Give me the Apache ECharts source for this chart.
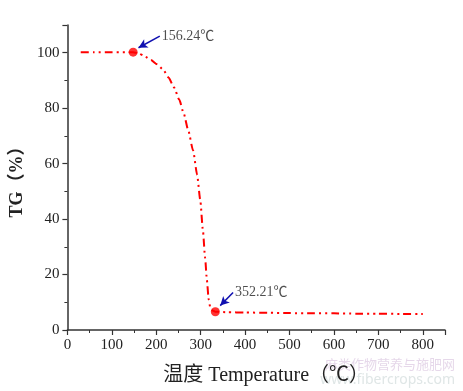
<!DOCTYPE html>
<html><head><meta charset="utf-8">
<script src="https://cdn.jsdelivr.net/npm/echarts@6/dist/echarts.min.js"></script>
<style>html,body{margin:0;padding:0;background:#fff}#c{width:463px;height:391px}</style>
</head><body><div id="c"></div>
<script>
// TG curve (temperature °C, TG %)
const temps = [30, 60, 100, 130, 148, 160, 173, 188, 202, 215, 228, 240, 252, 262, 272, 283, 292, 299, 305, 310, 314, 318, 322, 327, 333, 360, 400, 450, 500, 550, 600, 650, 700, 750, 800];
const tg    = [100.2, 100.2, 100.2, 100.2, 100.2, 99.8, 98.8, 97.4, 95.8, 94, 91, 87.5, 83, 78, 72, 64.7, 56, 47, 36, 26, 18, 11, 7.8, 7.0, 6.6, 6.4, 6.3, 6.2, 6.1, 6.0, 6.0, 5.9, 5.9, 5.8, 5.8];
// marked points
const markX = [148, 333];
const markY = [100.2, 6.6];
const markLabels = ['156.24℃', '352.21℃'];
// arrow tails / tips (data units)
const arrowTail = [[208, 106], [373, 13.5]];
const arrowTip = [[160, 101.8], [344, 8.8]];

const serif = '"Liberation Serif","Noto Sans CJK SC",serif';
const chart = echarts.init(document.getElementById('c'));
chart.setOption({
  animation: false,
  backgroundColor: '#fff',
  grid: {left: 66, right: 18, top: 25, bottom: 61},
  xAxis: {
    type: 'value', min: 0, max: 850, interval: 100,
    name: '温度 Temperature（℃）', nameLocation: 'middle', nameGap: 36,
    nameTextStyle: {fontFamily: serif, fontSize: 20, color: '#222', padding: [0, 0, 0, 20]},
    axisLine: {lineStyle: {color: '#333', width: 1.5}},
    axisTick: {inside: false, length: 5, lineStyle: {color: '#333', width: 1.2}},
    minorTick: {show: true, splitNumber: 2, length: 3, lineStyle: {color: '#333', width: 1}},
    axisLabel: {fontFamily: serif, fontSize: 15, color: '#222', margin: 8, showMaxLabel: false},
    splitLine: {show: false}
  },
  yAxis: {
    type: 'value', min: 0, max: 110, interval: 20,
    name: 'TG（%）', nameLocation: 'middle', nameGap: 40, nameRotate: 90,
    nameTextStyle: {fontFamily: serif, fontSize: 18, fontWeight: 'bold', color: '#222'},
    axisLine: {show: true, lineStyle: {color: '#333', width: 1.5}},
    axisTick: {show: true, inside: false, length: 5, lineStyle: {color: '#333', width: 1.2}},
    minorTick: {show: true, splitNumber: 2, length: 3, lineStyle: {color: '#333', width: 1}},
    axisLabel: {fontFamily: serif, fontSize: 15, color: '#222', margin: 8, showMaxLabel: false},
    splitLine: {show: false}
  },
  series: [
    {
      type: 'line', data: temps.map((t, i) => [t, tg[i]]), smooth: 0.2, smoothMonotone: 'x', showSymbol: false,
      lineStyle: {color: '#ff0000', width: 2, type: [8, 4, 2, 4, 2, 4]}, z: 2
    },
    {
      type: 'scatter', data: markX.map((x, i) => [x, markY[i]]), symbolSize: 9,
      itemStyle: {color: '#ff0000'}, z: 3
    },
    {
      type: 'scatter', symbolSize: 0,
      data: arrowTail.map((p, i) => ({value: p, label: {formatter: markLabels[i]}})),
      label: {show: true, position: 'right', distance: 2, fontFamily: serif, fontSize: 14, color: '#222'},
      markLine: {
        silent: true, symbol: ['none', 'arrow'], symbolSize: [7, 9], animation: false,
        lineStyle: {color: '#1010b0', width: 1.5, type: 'solid'}, label: {show: false},
        data: arrowTail.map((p, i) => [{coord: p}, {coord: arrowTip[i]}])
      }
    }
  ],
  graphic: [
    {type: 'text', right: 8, bottom: 20, style: {text: '麻类作物营养与施肥网', fill: '#e6d8ea', font: '13px "Noto Sans CJK SC"'}},
    {type: 'text', right: 8, bottom: 4, style: {text: 'www.fibercrops.com', fill: '#dfe6e6', font: '14px "Noto Sans"'}}
  ]
});
</script></body></html>
